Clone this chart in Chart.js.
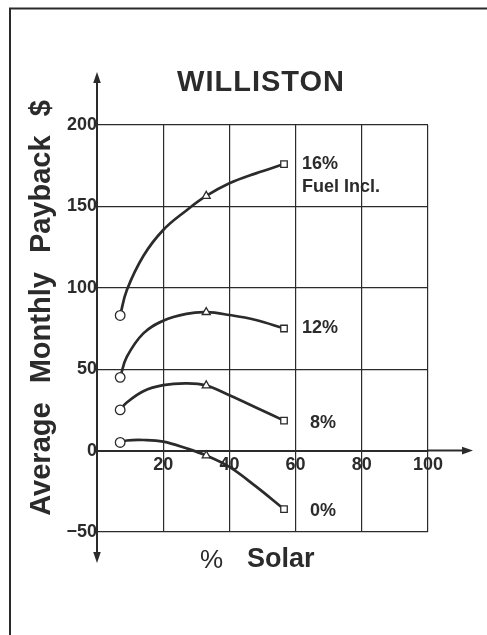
<!DOCTYPE html>
<html>
<head>
<meta charset="utf-8">
<title>Williston</title>
<script src="https://cdn.jsdelivr.net/npm/chart.js@4"></script>
<style>
  html, body { margin: 0; padding: 0; background: #fff; }
</style>
</head>
<body>
<canvas id="myChart" width="487" height="635"></canvas>
<script>
// % solar where each curve was read
var solarPct = [7, 9, 14, 20, 27, 33, 40, 48, 56.5];

// average monthly payback ($) per fuel escalation rate
var payback16 = [83, 98.5, 119.5, 135.5, 147.5, 156.4, 164.2, 170.3, 176];
var payback12 = [45, 57.5, 72, 79.8, 84, 85, 83.3, 80.2, 75];
var payback8 = [25, 29.5, 36.5, 40.2, 41.3, 40, 34, 26.5, 18.4];
var payback0 = [5, 6.2, 6.5, 5.5, 1.4, -3, -10, -22, -36];

var curveLabels = [["16%", "Fuel Incl."], ["12%"], ["8%"], ["0%"]];

// only some samples carry a marker
var markerAt = { 0: "circle", 5: "triangle", 8: "rect" };

var xTicks = [20, 40, 60, 80, 100];
var yTicks = [-50, 0, 50, 100, 150, 200];

var ink = "#2b2b2b";
var fontFamily = '"Liberation Sans", Arial, Helvetica, sans-serif';

function toPoints(values) {
    return values.map(function (v, i) {
        return { x: solarPct[i], y: v };
    });
}

function curve(values) {
    return {
        data: toPoints(values),
        borderColor: ink,
        borderWidth: 2.7,
        tension: 0.4,
        fill: false,
        pointStyle: function (c) {
            return markerAt[c.dataIndex] || "circle";
        },
        pointRadius: function (c) {
            var s = markerAt[c.dataIndex];
            if (!s) return 0;
            return s === "circle" ? 4.8 : 4.6;
        },
        pointBackgroundColor: "#fff",
        pointBorderColor: ink,
        pointBorderWidth: 1.3,
    };
}

function arrowHead(ctx, x, y, dir) {
    var len = 11, half = 3.8;
    ctx.beginPath();
    if (dir === "up") {
        ctx.moveTo(x, y); ctx.lineTo(x - half, y + len); ctx.lineTo(x + half, y + len);
    } else if (dir === "down") {
        ctx.moveTo(x, y); ctx.lineTo(x - half, y - len); ctx.lineTo(x + half, y - len);
    } else {
        ctx.moveTo(x, y); ctx.lineTo(x - len, y - half); ctx.lineTo(x - len, y + half);
    }
    ctx.closePath();
    ctx.fill();
}

// frame, arrowed axes, title and the text next to the curves
var decorations = {
    id: "decorations",
    afterDraw: function (chart) {
        var ctx = chart.ctx;
        var area = chart.chartArea;
        var xs = chart.scales.x, ys = chart.scales.y;
        var x0 = xs.getPixelForValue(0);
        var y0 = ys.getPixelForValue(0);

        ctx.save();
        ctx.strokeStyle = ink;
        ctx.fillStyle = ink;

        // page frame
        ctx.lineWidth = 2;
        ctx.beginPath();
        ctx.moveTo(10, 640);
        ctx.lineTo(10, 8.5);
        ctx.lineTo(490, 8.5);
        ctx.stroke();

        // axes run past the grid
        ctx.lineWidth = 2;
        ctx.beginPath();
        ctx.moveTo(x0, area.top - 45);
        ctx.lineTo(x0, area.top);
        ctx.moveTo(x0, area.bottom);
        ctx.lineTo(x0, area.bottom + 24);
        ctx.moveTo(area.right, y0);
        ctx.lineTo(area.right + 36, y0);
        ctx.stroke();
        arrowHead(ctx, x0, area.top - 53, "up");
        arrowHead(ctx, x0, area.bottom + 31, "down");
        arrowHead(ctx, area.right + 45, y0, "right");

        // title
        ctx.font = "bold 29px " + fontFamily;
        ctx.textAlign = "center";
        ctx.textBaseline = "alphabetic";
        if ("letterSpacing" in ctx) ctx.letterSpacing = "1px";
        ctx.fillText("WILLISTON", 261, 91);
        if ("letterSpacing" in ctx) ctx.letterSpacing = "0px";

        // y axis title
        ctx.save();
        ctx.translate(50, 308);
        ctx.rotate(-Math.PI / 2);
        ctx.font = "bold 29px " + fontFamily;
        if ("wordSpacing" in ctx) ctx.wordSpacing = "11px";
        ctx.fillText("Average Monthly Payback $", 0, 0);
        ctx.restore();

        // x axis title
        ctx.textAlign = "left";
        ctx.font = "26px " + fontFamily;
        ctx.fillText("%", 200, 568);
        ctx.font = "bold 27px " + fontFamily;
        ctx.fillText("Solar", 247, 567);

        // curve labels beside the last marker
        var labelDx = [18, 18, 26, 26];
        var labelDy = [0, 0, 2, 2];
        ctx.font = "bold 18px " + fontFamily;
        ctx.textBaseline = "middle";
        chart.data.datasets.forEach(function (ds, i) {
            var meta = chart.getDatasetMeta(i);
            var last = meta.data[meta.data.length - 1];
            curveLabels[i].forEach(function (line, j) {
                ctx.fillText(line, last.x + labelDx[i], last.y + labelDy[i] + j * 23);
            });
        });
        ctx.restore();
    },
};

function noPadding(scale) {
    scale.paddingLeft = 0;
    scale.paddingRight = 0;
    scale.paddingTop = 0;
    scale.paddingBottom = 0;
}

var ctx = document.getElementById("myChart").getContext("2d");
var myChart = new Chart(ctx, {
    type: "line",
    data: {
        datasets: [curve(payback16), curve(payback12), curve(payback8), curve(payback0)],
    },
    options: {
        responsive: false,
        devicePixelRatio: 1,
        animation: false,
        events: [],
        layout: {
            padding: { left: 97, right: 59, top: 125, bottom: 103 },
        },
        scales: {
            x: {
                type: "linear",
                position: { y: 0 },
                min: 0,
                max: 100,
                afterFit: noPadding,
                afterBuildTicks: function (scale) {
                    scale.ticks = [0].concat(xTicks).map(function (v) { return { value: v }; });
                },
                ticks: {
                    padding: 4,
                    color: ink,
                    font: { family: fontFamily, size: 18, weight: "bold" },
                    maxRotation: 0,
                    callback: function (v) {
                        return v === 0 ? "" : String(v);
                    },
                },
                grid: { color: ink, lineWidth: 1.2, drawTicks: false },
                border: { color: ink, width: 2 },
            },
            y: {
                type: "linear",
                position: { x: 0 },
                min: -50,
                max: 200,
                afterFit: noPadding,
                afterBuildTicks: function (scale) {
                    scale.ticks = yTicks.map(function (v) { return { value: v }; });
                },
                ticks: {
                    padding: 5,
                    color: ink,
                    font: { family: fontFamily, size: 18, weight: "bold" },
                    callback: function (v) {
                        return String(v).replace("-", "\u2212");
                    },
                },
                grid: { color: ink, lineWidth: 1.2, drawTicks: false },
                border: { color: ink, width: 2 },
            },
        },
        plugins: {
            legend: { display: false },
            tooltip: { enabled: false },
        },
    },
    plugins: [decorations],
});
</script>
</body>
</html>
